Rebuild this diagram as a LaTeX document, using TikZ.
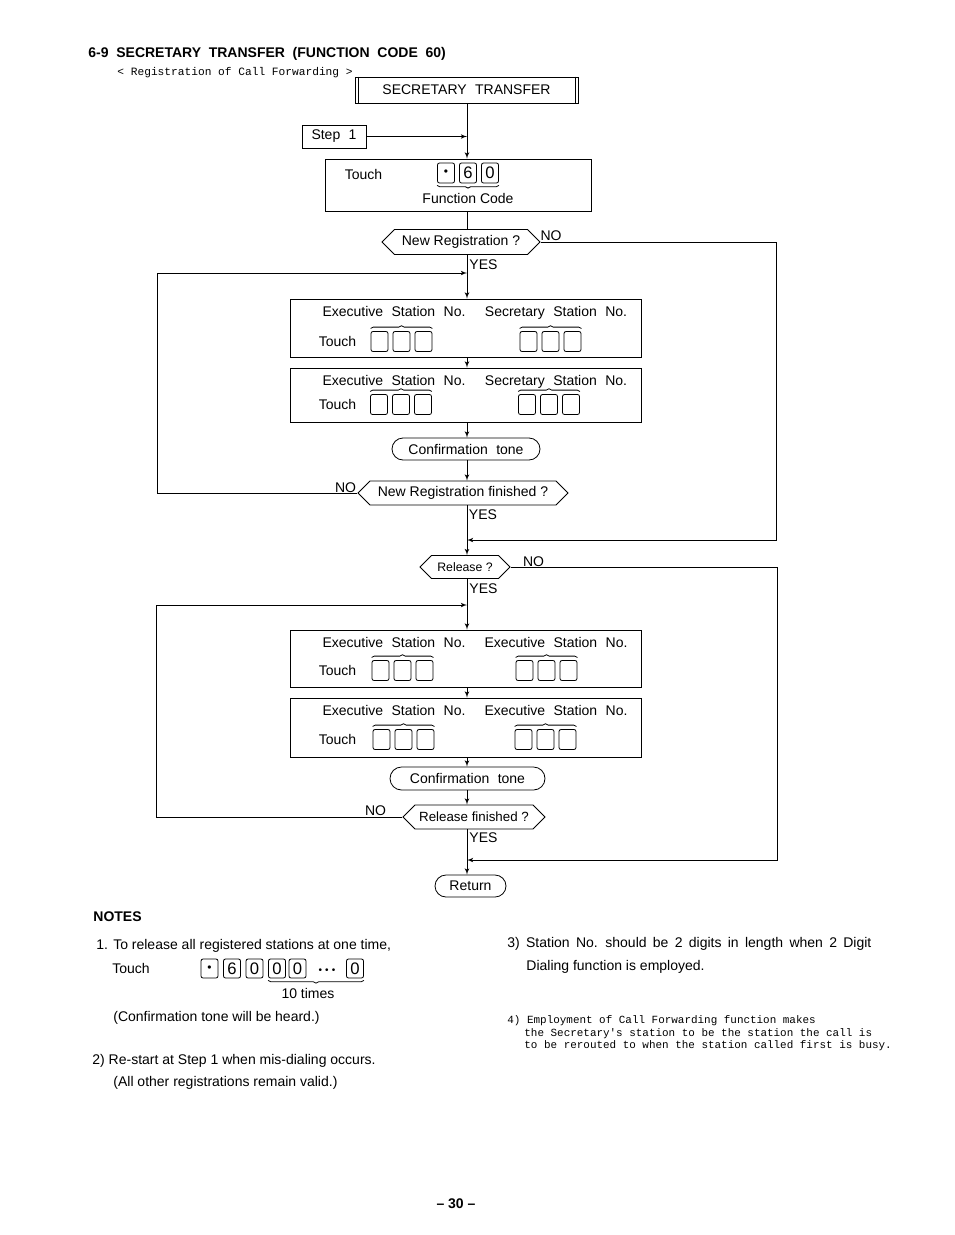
\documentclass[tikz,border=0pt]{standalone}
\usepackage{fontspec}
\setmainfont{Liberation Sans}
\setmonofont{Liberation Mono}
\usetikzlibrary{arrows,shapes,decorations.pathreplacing}
\newcommand{\basefont}{\fontsize{10.5}{12.6}\selectfont}
\newcommand{\widefont}{\basefont\spaceskip=.6em\relax}
\newcommand{\notefont}{\basefont\spaceskip=.45em\relax}
\newcommand{\titlefont}{\bfseries\fontsize{10.5}{12}\selectfont\spaceskip=.55em\relax}
\newcommand{\codefont}{\ttfamily\fontsize{8.2}{9.4}\selectfont}
\newcommand{\keydot}{\raisebox{-1.6pt}{\fontsize{9}{10}\selectfont\textbullet}}
\newcommand{\keyrun}{\raisebox{-2.2pt}{\fontsize{7.5}{8}\selectfont\textbullet\kern2.4pt\textbullet\kern2.4pt\textbullet}}
\tikzstyle{box}=[draw,rectangle,inner sep=0pt,font=\basefont]
\tikzstyle{decision}=[draw,signal,signal to=east and west,inner sep=0pt,font=\basefont]
\tikzstyle{terminal}=[draw,rounded rectangle,inner sep=0pt,font=\widefont]
\tikzstyle{keycap}=[draw,rounded corners=1.5pt,minimum width=12.75pt,minimum height=15pt,inner sep=0pt,font=\fontsize{12.5}{13}\selectfont]
\tikzstyle{label}=[inner sep=0pt,text height=7.5pt,text depth=0pt,font=\basefont]
\tikzstyle{flow}=[draw,-latex']
\tikzstyle{over brace}=[draw,decorate,decoration={brace,amplitude=2pt}]
\tikzstyle{under brace}=[draw,decorate,decoration={brace,amplitude=2pt,mirror}]

\begin{document}
\begin{tikzpicture}[x=0.75pt,y=-0.75pt,line width=0.6pt]
    \useasboundingbox (0,0) rectangle (954,1235);
    % Heading
    \node[label,anchor=west,font=\titlefont] (title) at (88,52) {6-9 SECRETARY TRANSFER (FUNCTION CODE 60)};
    \node[label,anchor=west,text height=5pt,font=\ttfamily\fontsize{8.4}{10}\selectfont] (subtitle) at (117,72) {< Registration of Call Forwarding >};

    % Start of the flow
    \node[box,minimum width=167.25pt,minimum height=19.5pt,font=\widefont] (st) at (466.5,90) {SECRETARY TRANSFER};
    \draw ([xshift=2.5pt]st.north west) -- ([xshift=2.5pt]st.south west);
    \draw ([xshift=-2.5pt]st.north east) -- ([xshift=-2.5pt]st.south east);
    \node[box,minimum width=48pt,minimum height=17.25pt,font=\widefont] (step) at (334,136.5) {Step 1};
    \node[box,minimum width=199.5pt,minimum height=39pt] (touch) at (458,185) {};
    \node[label] (touchlbl) at (363.5,174) {Touch};
    \foreach \i/\x/\t in {1/446/\keydot, 2/468/6, 3/490/0}
        \node[keycap] (fc\i) at (\x,173) {\t};
    \path[under brace] ([yshift=-1.5pt]fc1.south west) -- ([yshift=-1.5pt]fc3.south east);
    \node[label] (fclbl) at (468,198) {Function Code};

    % Decisions and tones
    \node[decision,minimum width=118.5pt,minimum height=18.75pt] (newreg) at (461,242) {New Registration ?};
    \node[terminal,minimum width=111pt,minimum height=16.5pt] (tone1) at (466,449) {Confirmation tone};
    \node[decision,minimum width=157.5pt,minimum height=18pt] (regdone) at (463,493) {New Registration finished ?};
    \node[decision,minimum width=67.5pt,minimum height=17.25pt,font=\fontsize{9.2}{11}\selectfont] (rel) at (465,567) {Release ?};
    \node[terminal,minimum width=116.25pt,minimum height=17.25pt] (tone2) at (467.5,778.5) {Confirmation tone};
    \node[decision,minimum width=106.5pt,minimum height=18pt,font=\fontsize{10}{12}\selectfont] (reldone) at (474,817) {Release finished ?};
    \node[terminal,minimum width=53.25pt,minimum height=16.5pt] (ret) at (470.5,886) {Return};

    % Station number boxes
    \foreach \s/\cy/\bh/\hy/\ky/\kl/\kr/\rname in {1/328/43.5/311/341.5/379.5/528.5/Secretary, 2/395/40.5/380/404.5/379/527/Secretary, 3/658.5/42.75/642/670.5/380.5/524.5/Executive, 4/727.5/44.25/710/739.5/381.5/523.5/Executive} {
        \node[box,minimum width=263.25pt,minimum height=\bh pt] (sta\s) at (465.5,\cy) {};
        \node[label,font=\widefont] (hdl\s) at (394,\hy) {Executive Station No.};
        \node[label,font=\widefont] (hdr\s) at (556,\hy) {\rname\ Station No.};
        \node[label] (tch\s) at (337.5,\ky) {Touch};
        \foreach \j in {0,1,2} {
            \node[keycap] (kl\s\j) at ({\kl+22*\j},\ky) {};
            \node[keycap] (kr\s\j) at ({\kr+22*\j},\ky) {};
        }
        \path[over brace] ([yshift=2pt]kl\s0.north west) -- ([yshift=2pt]kl\s2.north east);
        \path[over brace] ([yshift=2pt]kr\s0.north west) -- ([yshift=2pt]kr\s2.north east);
    }

    % Corner points of the loops
    \coordinate (main) at (467,0);
    \coordinate (stepin) at (467,136.5);
    \coordinate (noA) at (776,242);
    \coordinate (joinA) at (467,540);
    \coordinate (backA) at (157,493);
    \coordinate (loopA) at (467,273);
    \coordinate (noB) at (777,567);
    \coordinate (joinB) at (467,860);
    \coordinate (backB) at (156,817);
    \coordinate (loopB) at (467,605);

    % Connect the steps
    \path[flow] (st.south -| main) -- (touch.north -| main);
    \path[flow] (step.east) -- (stepin);
    \path[draw] (touch.south -| main) -- (newreg.north -| main);
    \path[flow] (newreg.south -| main) -- (sta1.north -| main);
    \path[flow] (newreg.east) -- (noA) |- (joinA);
    \path[flow] (sta1.south -| main) -- (sta2.north -| main);
    \path[flow] (sta2.south -| main) -- (tone1.north -| main);
    \path[flow] (tone1.south -| main) -- (regdone.north -| main);
    \path[flow] (regdone.west) -- (backA) |- (loopA);
    \path[flow] (regdone.south -| main) -- (rel.north -| main);
    \path[flow] (rel.east) -- (noB) |- (joinB);
    \path[flow] (rel.south -| main) -- (sta3.north -| main);
    \path[flow] (sta3.south -| main) -- (sta4.north -| main);
    \path[flow] (sta4.south -| main) -- (tone2.north -| main);
    \path[flow] (tone2.south -| main) -- (reldone.north -| main);
    \path[flow] (reldone.west) -- (backB) |- (loopB);
    \path[flow] (reldone.south -| main) -- (ret.north -| main);

    % YES / NO
    \node[label] (yesA) at (483.5,264) {YES};
    \node[label] (noAl) at (551,235) {NO};
    \node[label] (noBl) at (345.5,487) {NO};
    \node[label] (yesB) at (483,514) {YES};
    \node[label] (noCl) at (533.5,561) {NO};
    \node[label] (yesC) at (483.5,588) {YES};
    \node[label] (noDl) at (375.5,810) {NO};
    \node[label] (yesD) at (483.5,837) {YES};

    % Notes
    \node[label,anchor=west,font=\bfseries\basefont] (notes) at (93,916) {NOTES};
    \node[label,anchor=west] (n1) at (96,944) {1. To release all registered stations at one time,};
    \node[label,anchor=west] (n1t) at (112,968) {Touch};
    \foreach \i/\x/\t in {1/209.5/\keydot, 2/232/6, 3/254.5/0, 4/277/0, 5/297.5/0, 7/355/0}
        \node[keycap,minimum height=14.25pt] (nk\i) at (\x,968.5) {\t};
    \node[inner sep=0pt,text height=3pt,text depth=0pt] (nkdots) at (327,968.5) {\keyrun};
    \path[under brace] ([yshift=-1.5pt]nk4.south west) -- ([yshift=-1.5pt]nk7.south east);
    \node[label] (ten) at (308,993) {10 times};
    \node[label,anchor=west] (n1c) at (113,1016) {(Confirmation tone will be heard.)};
    \node[label,anchor=west] (n2) at (92,1059) {2) Re-start at Step 1 when mis-dialing occurs.};
    \node[label,anchor=west] (n2b) at (113,1081) {(All other registrations remain valid.)};
    \node[label,anchor=west,font=\notefont] (n3) at (507,942) {3) Station No. should be 2 digits in length when 2 Digit};
    \node[label,anchor=west] (n3b) at (526,965) {Dialing function is employed.};
    \node[label,anchor=west,text height=5pt,font=\codefont] (n4a) at (507,1020) {4) Employment of Call Forwarding function makes};
    \node[label,anchor=west,text height=5pt,font=\codefont] (n4b) at (524,1033) {the Secretary's station to be the station the call is};
    \node[label,anchor=west,text height=5pt,font=\codefont] (n4c) at (524,1045) {to be rerouted to when the station called first is busy.};

    % Page number
    \node[label,font=\bfseries\basefont] (page) at (456,1203) {– 30 –};
\end{tikzpicture}
\end{document}
